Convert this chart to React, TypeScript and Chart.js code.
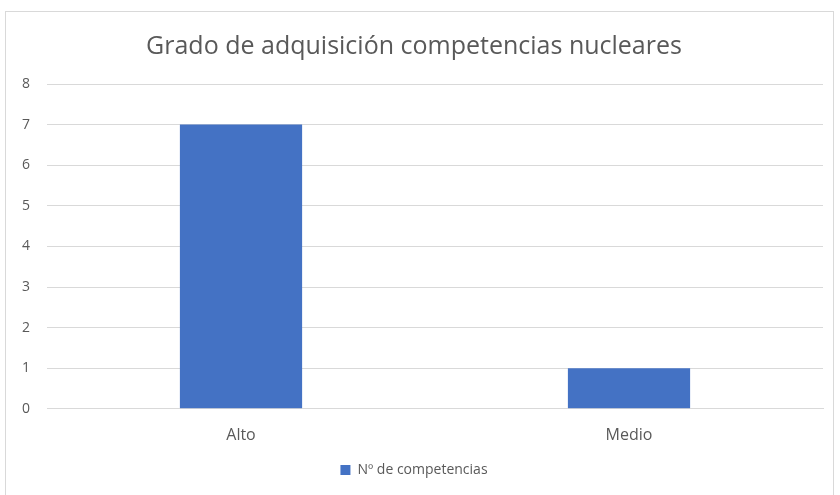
import React, { useEffect, useRef } from "react";
import { Chart, registerables } from "chart.js";

Chart.register(...registerables);

const categories = ["Alto", "Medio"];
const seriesLabel = "Nº de competencias";
const seriesValues = [7, 1];
const titleText = "Grado de adquisición competencias nucleares";
const yMin = 0;
const yMax = 8;
const yStep = 1;

export default function App() {
  const ref = useRef<HTMLCanvasElement | null>(null);

  useEffect(() => {
    document.body.style.margin = "0";
    const canvas = ref.current;
    if (!canvas) return;
    const chart = new Chart(canvas, {
      type: "bar",
      data: {
        labels: categories,
        datasets: [
          {
            label: seriesLabel,
            data: seriesValues,
            backgroundColor: "#4472C4",
            borderWidth: 0,
            barPercentage: 0.315,
            categoryPercentage: 1,
          },
        ],
      },
      options: {
        responsive: false,
        animation: false,
        layout: { padding: { left: 5, right: 17, top: 32, bottom: 8 } },
        plugins: {
          title: {
            display: true,
            text: titleText,
            color: "#595959",
            font: { family: "Open Sans", size: 25, weight: "normal" },
            padding: { top: 0, bottom: 22 },
          },
          legend: {
            display: true,
            position: "bottom",
            labels: {
              color: "#595959",
              font: { family: "Open Sans", size: 14 },
              boxWidth: 10,
              boxHeight: 10,
              padding: 9,
            },
          },
          tooltip: { enabled: false },
        },
        scales: {
          x: {
            grid: { display: false },
            border: { display: true, color: "#d9d9d9" },
            ticks: {
              color: "#595959",
              font: { family: "Open Sans", size: 16 },
              padding: 9,
            },
          },
          y: {
            min: yMin,
            max: yMax,
            grid: { color: "#d9d9d9", drawTicks: false },
            border: { display: false },
            ticks: {
              stepSize: yStep,
              color: "#595959",
              font: { family: "Open Sans", size: 14 },
              padding: 17,
            },
          },
        },
      },
    });
    return () => chart.destroy();
  }, []);

  return (
    <div style={{ position: "relative", width: 840, height: 495, background: "#fff" }}>
      <div
        style={{
          position: "absolute",
          left: 5,
          top: 11,
          width: 829,
          height: 490,
          border: "1px solid #d9d9d9",
          boxSizing: "border-box",
        }}
      />
      <canvas ref={ref} width={840} height={495} style={{ position: "absolute", left: 0, top: 0 }} />
    </div>
  );
}
